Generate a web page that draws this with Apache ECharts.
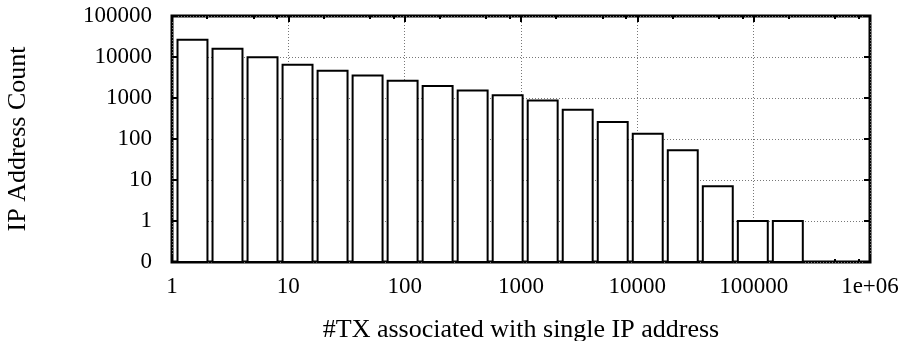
<!DOCTYPE html>
<html>
<head>
<meta charset="utf-8">
<script src="https://cdn.jsdelivr.net/npm/echarts@6/dist/echarts.min.js"></script>
<style>
  html, body { margin: 0; padding: 0; background: #fff; }
  #chart { width: 907px; height: 341px; }
</style>
</head>
<body>
<div id="chart"></div>
<script>
// bins are powers of two, bar drawn around the bin centre
const BIN_CENTERS = [1.5, 3, 6, 12, 24, 48, 96, 192, 384, 768, 1536, 3072, 6144, 12288, 24576, 49152, 98304, 196608];
const IP_COUNTS = [26500, 15900, 9800, 6500, 4600, 3550, 2650, 1950, 1520, 1170, 865, 520, 260, 134, 53, 7, 1, 1];
const X_MINOR_TICKS = [2, 5, 8, 20, 50, 80, 200, 500, 800, 2000, 5000, 8000, 20000, 50000, 80000, 200000, 500000, 800000];

const X_MIN = 1, X_MAX = 1e6;
const Y_MIN = 0.1, Y_MAX = 100000;
const BAR_HALF = 1.345; // half bar width as a log factor

const FONT = 'Liberation Serif';

const chart = echarts.init(document.getElementById('chart'), null, { renderer: 'canvas' });

const grid = {
  left: 172, right: 37, top: 16, bottom: 79,
  outerBoundsMode: 'none',
  show: true, borderColor: '#000', borderWidth: 3, backgroundColor: 'transparent',
};

const gridLine = { show: true, lineStyle: { color: '#777', width: 1, type: [1, 2] } };

function xLabel(v) {
  if (v >= 1e6) return '1e+06';
  return String(Math.round(v));
}
function yLabel(v) {
  if (v < 1) return '0';
  return String(Math.round(v));
}

const xBase = { type: 'log', logBase: 10, min: X_MIN, max: X_MAX, splitNumber: 6 };

chart.setOption({
  animation: false,
  grid: grid,
  xAxis: [
    Object.assign({}, xBase, {
      position: 'bottom',
      name: '#TX associated with single IP address',
      nameLocation: 'middle',
      nameGap: 55,
      nameTextStyle: { fontFamily: FONT, fontSize: 26, color: '#000' },
      axisLine: { show: false },
      axisTick: { inside: true, length: 6, lineStyle: { color: '#000', width: 2 } },
      axisLabel: { margin: 13, fontFamily: FONT, fontSize: 23, color: '#000', formatter: xLabel, showMinLabel: true, showMaxLabel: true },
      splitLine: gridLine,
    }),
    Object.assign({}, xBase, {
      position: 'top',
      axisLine: { show: false },
      axisTick: { inside: true, length: 6, lineStyle: { color: '#000', width: 2 } },
      axisLabel: { show: false },
      splitLine: { show: false },
    }),
    Object.assign({}, xBase, {
      position: 'bottom',
      axisLine: { show: false },
      axisTick: { inside: true, length: 3, customValues: X_MINOR_TICKS, lineStyle: { color: '#000', width: 2 } },
      axisLabel: { show: false },
      splitLine: { show: false },
    }),
    Object.assign({}, xBase, {
      position: 'top',
      axisLine: { show: false },
      axisTick: { inside: true, length: 3, customValues: X_MINOR_TICKS, lineStyle: { color: '#000', width: 2 } },
      axisLabel: { show: false },
      splitLine: { show: false },
    }),
  ],
  yAxis: [
    {
      type: 'log', logBase: 10, min: Y_MIN, max: Y_MAX, splitNumber: 6,
      position: 'left',
      name: 'IP Address Count',
      nameLocation: 'middle',
      nameGap: 141,
      nameTextStyle: { fontFamily: FONT, fontSize: 26, color: '#000' },
      axisLine: { show: false },
      axisTick: { inside: true, length: 6, lineStyle: { color: '#000', width: 2 } },
      axisLabel: { margin: 20, fontFamily: FONT, fontSize: 23, color: '#000', formatter: yLabel, showMinLabel: true, showMaxLabel: true },
      splitLine: gridLine,
    },
    {
      type: 'log', logBase: 10, min: Y_MIN, max: Y_MAX, splitNumber: 6,
      position: 'right',
      axisLine: { show: false },
      axisTick: { inside: true, length: 6, lineStyle: { color: '#000', width: 2 } },
      axisLabel: { show: false },
      splitLine: { show: false },
    },
  ],
  series: [
    {
      type: 'custom',
      xAxisIndex: 0,
      yAxisIndex: 0,
      data: BIN_CENTERS.map((x, i) => [x, IP_COUNTS[i]]),
      renderItem: function (params, api) {
        const x = api.value(0);
        const topLeft = api.coord([x / BAR_HALF, api.value(1)]);
        const bottomRight = api.coord([x * BAR_HALF, Y_MIN]);
        return {
          type: 'rect',
          shape: {
            x: topLeft[0], y: topLeft[1],
            width: bottomRight[0] - topLeft[0],
            height: bottomRight[1] - topLeft[1],
          },
          style: { fill: '#fff', stroke: '#000', lineWidth: 2 },
        };
      },
      z: 3,
    },
  ],
});
</script>
</body>
</html>
